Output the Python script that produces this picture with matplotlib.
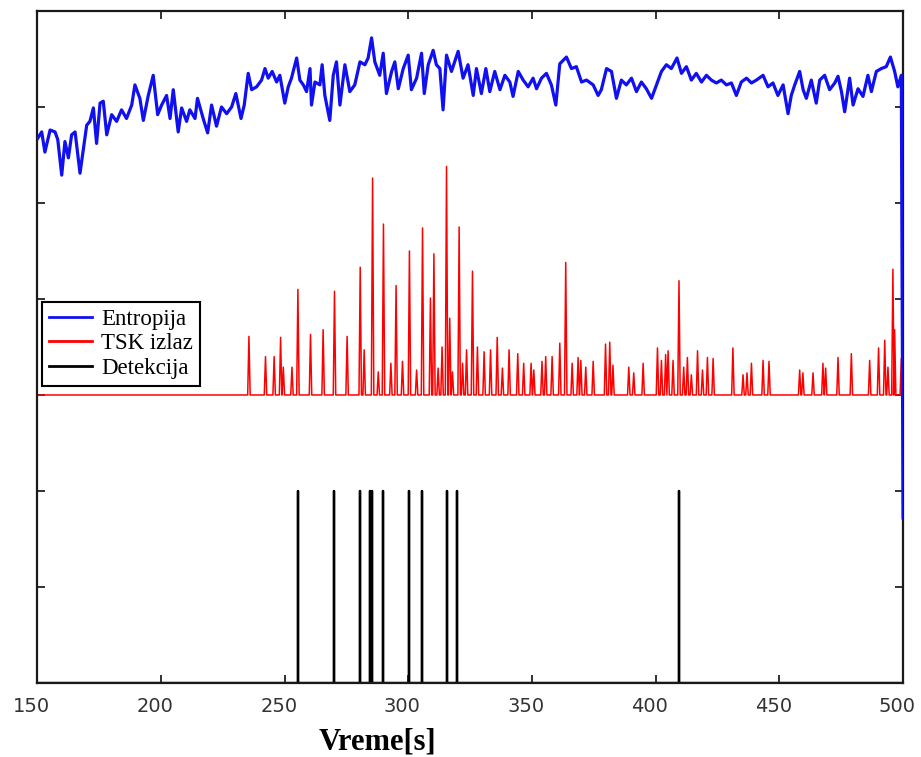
import matplotlib
matplotlib.use("Agg")
import matplotlib.pyplot as plt
import matplotlib.transforms as mtransforms
import numpy as np

# ---------------- data ----------------
entropy_t = [150.0, 151.7, 153.0, 155.1, 157.1, 158.2, 159.8, 161.1, 162.5, 163.8, 165.2, 167.2,
             169.9, 171.2, 172.6, 173.9, 175.3, 176.6, 178.0, 180.0, 182.0, 184.0, 186.0, 188.1,
             189.4, 191.4, 192.8, 194.8, 196.8, 198.6, 200.2, 202.2, 203.6, 204.9, 206.9, 208.3,
             210.3, 211.6, 213.7, 214.7, 217.0, 218.8, 220.4, 222.4, 224.4, 226.5, 228.5, 230.2,
             232.3, 233.6, 235.2, 236.6, 238.6, 240.6, 242.0, 243.3, 244.9, 246.7, 248.0, 250.0,
             251.4, 252.7, 254.8, 256.1, 257.5, 258.8, 260.2, 260.8, 262.2, 264.2, 265.1, 266.2,
             268.2, 269.6, 270.9, 272.3, 274.3, 276.3, 278.3, 280.4, 282.4, 283.7, 285.1, 286.4,
             288.4, 289.8, 291.1, 293.2, 294.5, 295.9, 297.9, 299.9, 301.2, 303.3, 305.3, 306.4,
             308.0, 310.0, 311.3, 312.7, 314.0, 315.4, 317.4, 320.1, 322.1, 324.1,
             326.2, 327.5, 329.5, 331.3, 332.9, 334.9, 337.0, 339.0, 341.0, 342.3, 344.4, 346.4,
             348.4, 350.4, 351.8, 353.8, 355.8, 357.8, 359.6, 361.2, 363.9, 365.9, 367.9, 370.0,
             372.0, 374.7, 376.7, 378.0, 380.1, 382.1, 384.1, 386.1, 388.1, 390.2, 392.2, 394.2,
             396.2, 398.3, 400.3, 402.3, 404.3, 406.3, 408.6, 410.4, 412.4, 414.4, 416.4, 418.5,
             420.5, 422.5, 424.5, 426.5, 428.6, 430.6, 432.6, 434.6, 436.7, 438.7, 440.7, 443.4,
             445.4, 447.4, 449.4, 451.5, 453.5, 454.8, 456.2, 458.2, 459.6, 460.9, 462.9, 464.9,
             466.3, 468.3, 470.3, 472.4, 473.7, 475.1, 476.4, 478.4, 479.8, 481.8, 483.8, 485.8,
             487.2, 489.2, 491.2, 493.2, 494.9, 496.6, 497.9, 499.3, 500.0]
entropy_v = [5.67, 5.74, 5.53, 5.76, 5.74, 5.66, 5.29, 5.64, 5.47, 5.71, 5.74, 5.31,
             5.81, 5.85, 5.99, 5.62, 6.04, 6.06, 5.71, 5.92, 5.85, 5.97, 5.88, 6.02,
             6.23, 6.09, 5.86, 6.12, 6.33, 5.92, 6.02, 6.12, 5.88, 6.18, 5.74, 5.99,
             5.85, 5.97, 5.88, 6.09, 5.88, 5.73, 6.02, 5.80, 6.00, 5.93, 6.00, 6.14,
             5.88, 6.02, 6.35, 6.18, 6.21, 6.28, 6.40, 6.30, 6.37, 6.26, 6.33, 6.04,
             6.21, 6.30, 6.51, 6.28, 6.23, 6.16, 6.40, 6.02, 6.26, 6.23, 6.44, 6.12,
             5.86, 6.33, 6.47, 6.02, 6.44, 6.16, 6.23, 6.47, 6.44, 6.51, 6.72, 6.47,
             6.33, 6.56, 6.14, 6.37, 6.47, 6.19, 6.40, 6.54, 6.18, 6.30, 6.56, 6.14,
             6.44, 6.59, 6.44, 6.40, 5.97, 6.54, 6.37, 6.58, 6.30, 6.44,
             6.12, 6.40, 6.14, 6.40, 6.16, 6.37, 6.18, 6.33, 6.26, 6.11, 6.37, 6.28,
             6.21, 6.30, 6.19, 6.30, 6.35, 6.23, 6.02, 6.45, 6.52, 6.40, 6.42, 6.26,
             6.28, 6.23, 6.12, 6.18, 6.40, 6.37, 6.09, 6.28, 6.23, 6.30, 6.16, 6.26,
             6.19, 6.09, 6.23, 6.37, 6.44, 6.40, 6.51, 6.35, 6.42, 6.28, 6.35, 6.26,
             6.33, 6.28, 6.25, 6.28, 6.23, 6.25, 6.12, 6.26, 6.30, 6.25, 6.28, 6.33,
             6.21, 6.25, 6.12, 6.23, 5.93, 6.12, 6.23, 6.37, 6.18, 6.09, 6.28, 6.04,
             6.28, 6.33, 6.18, 6.25, 6.32, 6.16, 5.95, 6.30, 6.02, 6.19, 6.11, 6.33,
             6.16, 6.37, 6.40, 6.42, 6.52, 6.37, 6.21, 6.33, 1.72]

tsk_base = 3.0
tsk_t = [235.5, 242.2, 245.7, 248.3, 249.4, 252.9, 255.3, 260.4, 265.5, 270.1, 275.2, 280.5,
         282.1, 285.5, 287.8, 289.9, 292.9, 295.0, 297.6, 300.4, 303.3, 305.7, 308.9, 310.3,
         312.0, 313.6, 315.4, 316.7, 317.8, 320.5, 321.9, 323.5, 325.9, 327.9, 330.6, 333.2,
         335.9, 338.0, 340.7, 344.2, 346.6, 349.6, 350.7, 354.0, 355.5, 358.1, 361.2, 363.6,
         366.2, 368.6, 369.7, 371.7, 374.7, 379.7, 381.4, 382.7, 389.1, 391.1, 394.9, 400.7,
         402.3, 404.0, 405.0, 407.0, 409.4, 411.3, 412.8, 414.4, 416.9, 418.9, 420.9, 423.2,
         431.2, 435.3, 436.9, 438.7, 443.4, 445.8, 458.2, 459.5, 463.6, 467.6, 468.7, 473.7,
         479.1, 486.5, 490.1, 492.6, 493.9, 495.9, 496.6, 499.3]
tsk_peak = [3.61, 3.40, 3.40, 3.60, 3.29, 3.29, 4.10, 3.63, 3.68, 4.08, 3.61, 4.33,
            3.47, 5.26, 3.24, 4.78, 3.33, 4.14, 3.35, 4.50, 3.26, 4.74, 4.01, 4.47,
            3.28, 3.50, 5.38, 3.80, 3.24, 4.75, 3.33, 3.47, 4.29, 3.50, 3.45, 3.47,
            3.60, 3.28, 3.47, 3.43, 3.33, 3.33, 3.26, 3.35, 3.40, 3.40, 3.54, 4.38,
            3.33, 3.39, 3.36, 3.29, 3.35, 3.53, 3.55, 3.31, 3.29, 3.23, 3.33, 3.49,
            3.36, 3.42, 3.46, 3.36, 4.19, 3.29, 3.39, 3.21, 3.46, 3.26, 3.39, 3.38,
            3.49, 3.21, 3.23, 3.33, 3.36, 3.35, 3.26, 3.23, 3.23, 3.33, 3.28, 3.39,
            3.43, 3.36, 3.49, 3.57, 3.29, 4.31, 3.68, 3.38]

detect_t = [255.4, 270.0, 280.6, 284.6, 285.4, 289.8, 300.3, 305.5, 315.4, 319.7, 409.3]
detect_level = 2.0
detect_base = 0.0

x_ticks = [150, 200, 250, 300, 350, 400, 450, 500]
y_ticks = [1, 2, 3, 4, 5, 6]
labels = ["Entropija", "TSK izlaz", "Detekcija"]
xlabel = "Vreme[s]"

# ---------------- build spike-shaped line for TSK output ----------------
half_w = 0.5
rx, ry = [150.0], [tsk_base]
for t, p in zip(tsk_t, tsk_peak):
    rx += [t - half_w, t, t + half_w]
    ry += [tsk_base, p, tsk_base]
rx.append(500.0)
ry.append(tsk_base)

# detection signal as a line
dx, dy = [150.0], [detect_base]
for t in detect_t:
    dx += [t, t, t]
    dy += [detect_base, detect_level, detect_base]
dx.append(500.0)
dy.append(detect_base)

# ---------------- figure ----------------
fig = plt.figure(figsize=(9.21, 7.57), dpi=100)
ax = fig.add_axes([0.0407, 0.0978, 0.9398, 0.8877])

ax.plot(entropy_t, entropy_v, color="#1010f0", lw=2.3, label=labels[0], zorder=3)
ax.plot(rx, ry, color="#ff0000", lw=1.1, label=labels[1], zorder=2)
ax.plot(dx, dy, color="black", lw=1.7, label=labels[2], zorder=2)

ax.set_xlim(150, 500)
ax.set_ylim(0, 7)
ax.set_xticks(x_ticks)
ax.set_yticks(y_ticks)
ax.set_yticklabels([])
ax.tick_params(direction="in", length=5.5, width=1.3, top=True, right=True,
               colors="#222222", labelsize=14, pad=10)
for lab in ax.get_xticklabels():
    lab.set_color("#333333")
    lab.set_fontfamily("DejaVu Sans")
offset = mtransforms.ScaledTranslation(-0.06, 0, fig.dpi_scale_trans)
for lab in ax.get_xticklabels():
    lab.set_transform(lab.get_transform() + offset)

for s in ax.spines.values():
    s.set_linewidth(1.6)
    s.set_color("#1a1a1a")

ax.set_xlabel(xlabel, fontfamily="Liberation Serif", fontweight="bold", fontsize=22)
ax.xaxis.set_label_coords(0.393, -0.066)

leg = ax.legend(loc="upper left", bbox_to_anchor=(0.005, 0.567), borderaxespad=0,
                prop={"family": "Liberation Serif", "size": 16.5},
                handlelength=1.9, handletextpad=0.4, labelspacing=0.15,
                borderpad=0.3, fancybox=False, framealpha=1, edgecolor="black")
leg.get_frame().set_linewidth(1.5)
for line in leg.get_lines():
    line.set_linewidth(2.0)

fig.savefig("out.png", dpi=100)
